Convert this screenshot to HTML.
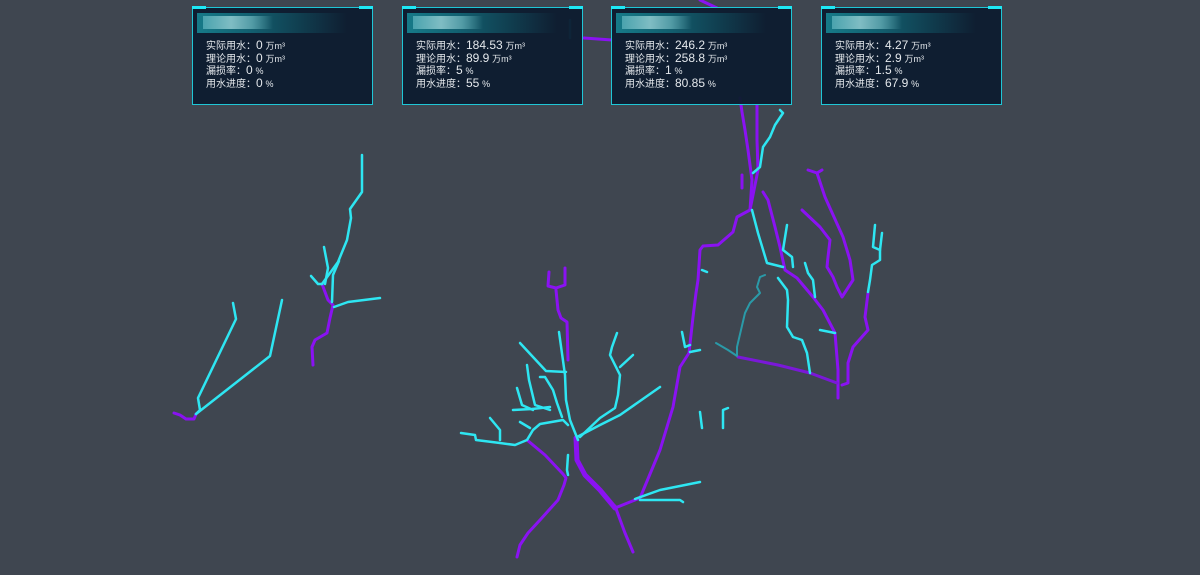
<!DOCTYPE html>
<html><head><meta charset="utf-8">
<style>
html,body{margin:0;padding:0;}
body{width:1200px;height:575px;background:#3f4650;position:relative;overflow:hidden;font-family:"Liberation Sans","Noto Sans CJK SC",sans-serif;}
svg{position:absolute;left:0;top:0;}
.card{position:absolute;top:7px;width:179px;height:96px;background:rgba(14,28,48,0.96);border:1px solid #1fc6d6;box-sizing:content-box;}
.card .tl,.card .tr{position:absolute;top:-2px;width:14px;height:3px;background:#1ee8f5;}
.card .tl{left:-1px}.card .tr{right:-1px}
.card .hd{position:absolute;left:4px;top:5px;width:150px;height:20px;background:linear-gradient(90deg,#167a88 0%,#126070 35%,rgba(14,28,48,0) 100%);}
.card .blur{position:absolute;left:6px;top:3px;width:70px;height:13px;background:linear-gradient(90deg,#4fa8b2,#8bc6cc 40%,#5aa2ac 70%,rgba(80,150,160,0));opacity:.9}
.card .rows{position:absolute;left:13px;top:31px;color:#e4e8ec;font-size:10px;}
.card .rows div{height:12.5px;line-height:12.5px;white-space:nowrap;}
.card .rows b{font-weight:normal;font-size:12px;line-height:12px;}
.card .rows i{font-style:normal;font-size:9px;line-height:9px;}
</style></head><body>
<svg width="1200" height="575" viewBox="0 0 1200 575" fill="none" stroke-linecap="round" stroke-linejoin="round">
<g stroke="#8a12f2" stroke-width="3">
<polyline points="700,0 717,8"/>
<polyline points="584,38 612,40"/>
<polyline points="174,413 180,415 186,419 194,419 196,414"/>
<polyline points="322,284 328,300 333,305 330,318 327,333 315,340 312,347 313,365"/>
<polyline points="549,272 548,286 556,288 565,285 565,268"/>
<polyline points="556,290 558,310 561,318 567,322 568,360"/>
<polyline points="576,438 577,460 585,475 600,490 610,502 615,508" stroke-width="5"/>
<polyline points="615,506 625,533 633,552"/>
<polyline points="527,440 545,455 563,474 566,478 564,485 558,500 540,520 528,533 520,545 517,557"/>
<polyline points="615,508 635,500 640,498 660,450 673,407 680,367 689,353 693,317 696,293 698,280 700,250 703,246 718,245 733,232 737,217 750,210"/>
<polyline points="750,210 752,180 748,150 745,130 742,112 740,98"/>
<polyline points="757,105 757,140 758,170 752,200 750,210"/>
<polyline points="742,175 742,188"/>
<polyline points="763,192 768,200 775,227 780,247 785,270 797,278 813,297 823,310 835,333 838,370 838,398"/>
<polyline points="802,210 820,227 830,240 828,257 827,267 833,277 837,287 842,297 853,280 850,260 843,237 825,197 817,173 808,170"/>
<polyline points="817,173 822,170"/>
<polyline points="868,293 865,317 868,330 853,347 848,363 848,383 842,385"/>
<polyline points="738,357 778,365 810,373 837,383" stroke="#7a18d8"/>
</g>
<g stroke="#2ee6f2" stroke-width="2.5">
<polyline points="233,303 236,319 198,398 200,410 196,414"/>
<polyline points="282,300 270,356 196,414"/>
<polyline points="362,155 362,192 350,209 351,218 347,240 338,262 322,284"/>
<polyline points="324,247 328,268 325,284"/>
<polyline points="339,261 333,275 332,302"/>
<polyline points="311,276 318,284 322,284"/>
<polyline points="334,307 348,302 380,298"/>
<polyline points="520,343 546,371 566,372"/>
<polyline points="559,332 565,375 566,400 570,420 578,440"/>
<polyline points="540,377 545,377 553,390 557,403 562,417"/>
<polyline points="527,365 529,380 535,405 550,410"/>
<polyline points="517,388 522,405 533,410"/>
<polyline points="513,410 532,409 550,407"/>
<polyline points="461,433 475,435 476,440 500,443 515,445 527,440 533,430 540,424 563,420 568,425"/>
<polyline points="490,418 500,430 500,440"/>
<polyline points="520,422 530,428"/>
<polyline points="580,437 600,418 615,408 618,395 620,375 610,355 612,347 617,333"/>
<polyline points="620,367 633,355"/>
<polyline points="577,437 600,425 620,415 660,387"/>
<polyline points="568,455 567,470 568,475"/>
<polyline points="635,499 660,490 700,482"/>
<polyline points="640,500 680,500 683,502"/>
<polyline points="780,110 783,113 775,125 770,137 763,147 760,167 753,173"/>
<polyline points="752,210 758,233 767,263 783,267"/>
<polyline points="787,225 783,250 792,257 793,267"/>
<polyline points="778,278 787,290 788,300 787,327 793,337 802,340 807,353 810,373"/>
<polyline points="805,263 808,273 813,280 815,297"/>
<polyline points="820,330 835,333"/>
<polyline points="875,225 873,247 880,250 882,233"/>
<polyline points="880,250 880,260 872,265 870,280 868,292"/>
<polyline points="702,270 707,272"/>
<polyline points="682,332 685,347 690,345"/>
<polyline points="690,352 700,350"/>
<polyline points="723,428 723,410 728,408"/>
<polyline points="700,412 702,428"/>
<polyline points="570,20 570,38"/>
</g>
<g stroke="#2a9aa8" stroke-width="2">
<polyline points="737,355 737,347 745,313 750,303 760,293 757,287 760,277 765,275"/>
<polyline points="716,343 728,350 737,356"/>
</g>
</svg>
<div class="card" style="left:192px"><div class="tl"></div><div class="tr"></div><div class="hd"><div class="blur"></div></div>
<div class="rows"><div>实际用水：<b>0</b> <i>万m³</i></div><div>理论用水：<b>0</b> <i>万m³</i></div><div>漏损率：<b>0</b> <i>%</i></div><div>用水进度：<b>0</b> <i>%</i></div></div></div>
<div class="card" style="left:402px"><div class="tl"></div><div class="tr"></div><div class="hd"><div class="blur"></div></div>
<div class="rows"><div>实际用水：<b>184.53</b> <i>万m³</i></div><div>理论用水：<b>89.9</b> <i>万m³</i></div><div>漏损率：<b>5</b> <i>%</i></div><div>用水进度：<b>55</b> <i>%</i></div></div></div>
<div class="card" style="left:611px"><div class="tl"></div><div class="tr"></div><div class="hd"><div class="blur"></div></div>
<div class="rows"><div>实际用水：<b>246.2</b> <i>万m³</i></div><div>理论用水：<b>258.8</b> <i>万m³</i></div><div>漏损率：<b>1</b> <i>%</i></div><div>用水进度：<b>80.85</b> <i>%</i></div></div></div>
<div class="card" style="left:821px"><div class="tl"></div><div class="tr"></div><div class="hd"><div class="blur"></div></div>
<div class="rows"><div>实际用水：<b>4.27</b> <i>万m³</i></div><div>理论用水：<b>2.9</b> <i>万m³</i></div><div>漏损率：<b>1.5</b> <i>%</i></div><div>用水进度：<b>67.9</b> <i>%</i></div></div></div>
</body></html>
